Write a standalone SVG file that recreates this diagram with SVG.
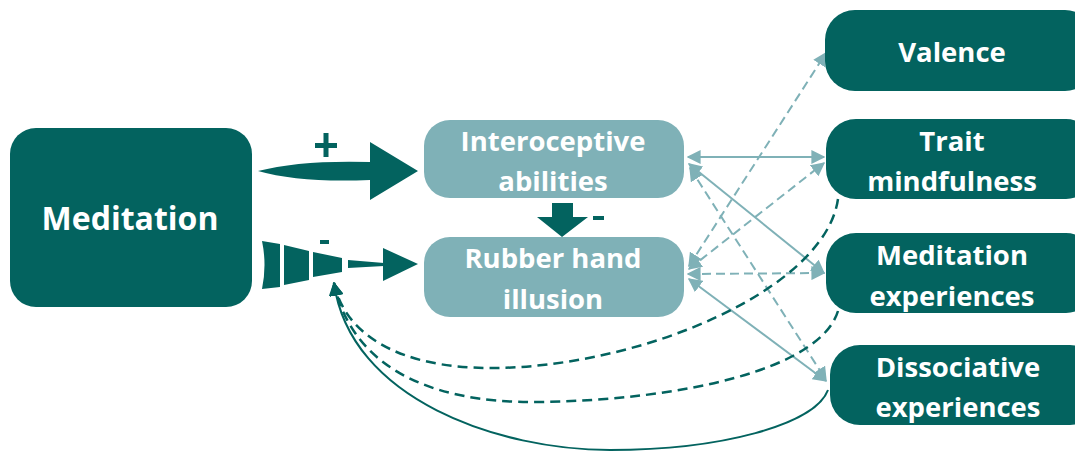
<svg xmlns="http://www.w3.org/2000/svg" width="1075" height="451" viewBox="0 0 1075 451">
<defs>
<style>
.dark{fill:#03635f}
.light{fill:#7fb1b7}
.t{font-family:"Open Sans","Liberation Sans",sans-serif;font-weight:700;fill:#fff;text-anchor:middle}
.lc{stroke:#7fb1b7;stroke-width:2;fill:none}
.ld{stroke:#7fb1b7;stroke-width:2;fill:none;stroke-dasharray:9 5}
.dd{stroke:#03635f;stroke-width:2.5;fill:none;stroke-dasharray:10 6}
.ds{stroke:#03635f;stroke-width:2;fill:none}
</style>
<marker id="lab" viewBox="0 0 10 10" refX="9" refY="5" markerWidth="14" markerHeight="14" markerUnits="userSpaceOnUse" orient="auto-start-reverse">
<path d="M0,0 L10,5 L0,10 Z" fill="#7fb1b7"/>
</marker>
<marker id="da" viewBox="0 0 10 10" refX="9" refY="5" markerWidth="14" markerHeight="14" markerUnits="userSpaceOnUse" orient="auto">
<path d="M0,0 L10,5 L0,10 Z" fill="#03635f"/>
</marker>
</defs>
<rect width="1075" height="451" fill="#fff"/>

<g id="connectors">
<line class="lc" x1="688" y1="157" x2="824" y2="157" marker-start="url(#lab)" marker-end="url(#lab)"/>
<line class="lc" x1="689" y1="164" x2="824" y2="273" marker-start="url(#lab)" marker-end="url(#lab)"/>
<line class="ld" x1="690" y1="168" x2="826" y2="380" marker-start="url(#lab)" marker-end="url(#lab)"/>
<line class="ld" x1="689" y1="266" x2="826" y2="53" marker-start="url(#lab)" marker-end="url(#lab)"/>
<line class="ld" x1="689" y1="269" x2="824" y2="163" marker-start="url(#lab)" marker-end="url(#lab)"/>
<line class="ld" x1="688" y1="274" x2="824" y2="273" marker-start="url(#lab)" marker-end="url(#lab)"/>
<line class="lc" x1="689" y1="279" x2="826" y2="381" marker-start="url(#lab)" marker-end="url(#lab)"/>
<path class="dd" d="M838,199 C825,290 640,368 490,368 C400,368 345,335 334,283" marker-end="url(#da)"/>
<path class="dd" d="M838,311 C820,370 680,400 540,402 C420,404 350,360 334,283" marker-end="url(#da)"/>
<path class="ds" d="M828,390 C815,425 720,450 610,450 C500,450 350,400 334,283" marker-end="url(#da)"/>
<path class="dark" d="M258,171 Q300,160 370,162 L370,142 L418,171 L370,200 L370,180 Q300,183 258,171 Z"/>
<path class="dark" d="M262,241 L280,244 L280,287 L262,289 Q267,265 262,241 Z"/>
<path class="dark" d="M284,245 L309,251 L309,280 L284,285 Z"/>
<path class="dark" d="M313,252 L342,258 L342,272 L313,277 Z"/>
<path class="dark" d="M348,260 L384,263 L384,266 L348,268 Z"/>
<path class="dark" d="M383,248 L418,264 L383,281 Z"/>
<path class="dark" d="M552,203 L573,203 L573,217 L588,217 L562,237 L537,217 L552,217 Z"/>
</g>

<g id="labels">
<rect x="315" y="143" width="22" height="5" fill="#03635f"/>
<rect x="323.5" y="133" width="5" height="24" fill="#03635f"/>
<rect x="320" y="240" width="9" height="4" fill="#03635f"/>
<rect x="593" y="216" width="11" height="4" fill="#03635f"/>
</g>

<g id="meditation">
<rect class="dark" x="10" y="128" width="242" height="179" rx="26"/>
<text class="t" x="130" y="230" font-size="32">Meditation</text>
</g>
<g id="interoceptive">
<rect class="light" x="424" y="120" width="260" height="78" rx="26"/>
<text class="t" x="553" y="151" font-size="27.5">Interoceptive</text>
<text class="t" x="553" y="191" font-size="27.5">abilities</text>
</g>
<g id="rubberhand">
<rect class="light" x="424" y="237" width="260" height="80" rx="26"/>
<text class="t" x="553" y="268" font-size="27.5">Rubber hand</text>
<text class="t" x="553" y="309" font-size="27.5">illusion</text>
</g>
<g id="valence">
<rect class="dark" x="825" y="10" width="270" height="81" rx="30"/>
<text class="t" x="952" y="62" font-size="27.5">Valence</text>
</g>
<g id="trait">
<rect class="dark" x="826" y="119" width="270" height="80" rx="30"/>
<text class="t" x="952" y="151" font-size="27.5">Trait</text>
<text class="t" x="952" y="191" font-size="27.5">mindfulness</text>
</g>
<g id="medexp">
<rect class="dark" x="826" y="233" width="270" height="80" rx="30"/>
<text class="t" x="952" y="265" font-size="27.5">Meditation</text>
<text class="t" x="952" y="306" font-size="27.5">experiences</text>
</g>
<g id="dissoc">
<rect class="dark" x="830" y="345" width="270" height="80" rx="30"/>
<text class="t" x="958" y="377" font-size="27.5">Dissociative</text>
<text class="t" x="958" y="417" font-size="27.5">experiences</text>
</g>
</svg>
